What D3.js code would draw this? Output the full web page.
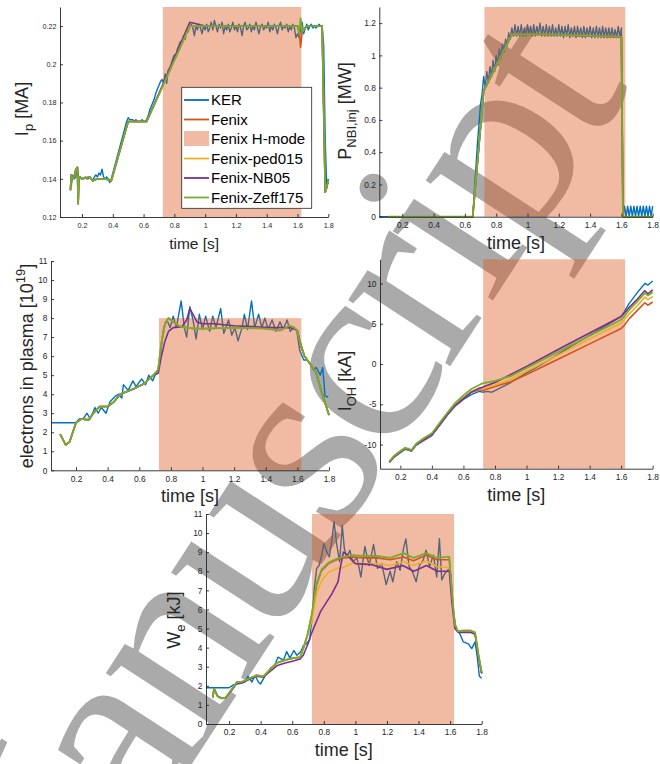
<!DOCTYPE html>
<html>
<head>
<meta charset="utf-8">
<script src="https://cdn.jsdelivr.net/npm/d3@7/dist/d3.min.js"></script>
<style>
  body { margin: 0; background: #fff; }
  text { font-family: "Liberation Sans", Arial, Helvetica, sans-serif; fill: #262626; }
</style>
</head>
<body>
<svg id="chart" width="660" height="764"></svg>
<script>
// ---------- data ----------
var legendLabels = ['KER', 'Fenix', 'Fenix H-mode', 'Fenix-ped015', 'Fenix-NB05', 'Fenix-Zeff175']
var hMode = [0.725, 1.625]

var timeTicks = [0.2, 0.4, 0.6, 0.8, 1, 1.2, 1.4, 1.6, 1.8]
var timeTickLabels = ['0.2', '0.4', '0.6', '0.8', '1', '1.2', '1.4', '1.6', '1.8']
var ipTicks = [0.12, 0.14, 0.16, 0.18, 0.2, 0.22]
var ipTickLabels = ['0.12', '0.14', '0.16', '0.18', '0.2', '0.22']
var nbiTicks = [0, 0.2, 0.4, 0.6, 0.8, 1, 1.2]
var nbiTickLabels = ['0', '0.2', '0.4', '0.6', '0.8', '1', '1.2']
var neTicks = [0, 1, 2, 3, 4, 5, 6, 7, 8, 9, 10, 11]
var ohTicks = [-10, -5, 0, 5, 10]
var weTicks = [0, 1, 2, 3, 4, 5, 6, 7, 8, 9, 10, 11]

// plasma current, KER sampled every 10 ms from 0.13 s
var ipKer = [
  .136, .142, .140, .141, .146, .139, .141, .140, .140, .141,
  .140, .140, .141, .140, .139, .141, .142, .141, .143, .142,
  .145, .141, .140, .141, .140, .138, .140, .143, .146, .149,
  .152, .155, .158, .161, .164, .167, .170, .172, .171, .171,
  .171, .170, .171, .170, .170, .170, .171, .170, .170, .171,
  .173, .176, .178, .180, .182, .185, .187, .189, .191, .192,
  .190, .195, .190, .197, .198, .200, .203, .205, .204, .208,
  .210, .212, .211, .215, .213, .218, .217, .220,
  .221, .219, .215, .220, .218, .221, .219, .216, .220, .218,
  .221, .217, .219, .222, .218, .223, .220, .217, .221, .219,
  .222, .216, .220, .218, .221, .217, .219, .222, .218, .220,
  .217, .221, .219, .215, .220, .222, .218, .219, .221, .217,
  .220, .218, .222, .219, .216, .220, .221, .218, .220, .219,
  .222, .217, .220, .218, .221, .219, .216, .220, .222, .218,
  .220, .219, .221, .217, .220, .218, .221, .219, .214, .216,
  .214, .218, .222, .216, .219, .221, .218, .220, .221, .219,
  .220, .219, .220, .221, .220, .220, .210, .160, .135, .140
]
var ipFenixT = [0.125, 0.13, 0.14, 0.15, 0.16, 0.17, 0.175, 0.18, 0.2, 0.25, 0.27, 0.3, 0.35, 0.39, 0.5, 0.62, 0.9, 1.0, 1.2, 1.4, 1.6, 1.61, 1.62, 1.63, 1.64, 1.66, 1.7, 1.76, 1.78, 1.8]
var ipFenix = [0.134, 0.142, 0.140, 0.141, 0.145, 0.146, 0.127, 0.141, 0.140, 0.141, 0.139, 0.140, 0.140, 0.139, 0.170, 0.170, 0.220, 0.220, 0.220, 0.220, 0.220, 0.218, 0.209, 0.217, 0.218, 0.220, 0.220, 0.220, 0.133, 0.139]
var ipPed = [0.134, 0.142, 0.140, 0.141, 0.145, 0.146, 0.127, 0.141, 0.140, 0.141, 0.139, 0.140, 0.140, 0.139, 0.170, 0.170, 0.220, 0.220, 0.220, 0.220, 0.220, 0.217, 0.223, 0.217, 0.218, 0.220, 0.220, 0.220, 0.133, 0.139]
var ipNB05 = [0.134, 0.142, 0.140, 0.141, 0.145, 0.146, 0.127, 0.141, 0.140, 0.141, 0.139, 0.140, 0.140, 0.139, 0.170, 0.170, 0.222, 0.220, 0.220, 0.220, 0.220, 0.218, 0.220, 0.217, 0.218, 0.220, 0.220, 0.220, 0.133, 0.139]
var ipZeff = [0.134, 0.142, 0.140, 0.141, 0.145, 0.146, 0.127, 0.141, 0.140, 0.141, 0.139, 0.140, 0.140, 0.139, 0.170, 0.170, 0.220, 0.220, 0.220, 0.220, 0.220, 0.216, 0.224, 0.217, 0.218, 0.220, 0.220, 0.220, 0.133, 0.139]

// NBI power
var nbiKerRampT = [0.053, 0.65, 0.66, 0.68, 0.70]
var nbiKerRamp = [0, 0, 0.15, 0.45, 0.70]
// pulses every 10 ms from 0.71 s to 1.60 s
var nbiKerPulse = [
  0.76, 0.87, 0.80, 0.90, 0.83, 0.93, 0.87, 0.97, 0.90, 1.00,
  0.94, 1.04, 0.98, 1.07, 1.02, 1.10, 1.06, 1.14, 1.10, 1.17,
  1.12, 1.19, 1.12, 1.18, 1.12, 1.19, 1.12, 1.17, 1.12, 1.19,
  1.13, 1.18, 1.12, 1.19, 1.12, 1.18, 1.13, 1.20, 1.12, 1.18,
  1.12, 1.19, 1.12, 1.18, 1.12, 1.19, 1.12, 1.17, 1.12, 1.19,
  1.12, 1.18, 1.11, 1.18, 1.12, 1.19, 1.11, 1.17, 1.12, 1.18,
  1.11, 1.18, 1.12, 1.17, 1.11, 1.18, 1.11, 1.17, 1.12, 1.18,
  1.11, 1.17, 1.11, 1.18, 1.11, 1.17, 1.11, 1.18, 1.11, 1.17,
  1.11, 1.17, 1.11, 1.17, 1.11, 1.16, 1.11, 1.18, 1.11, 1.17
]
// pulses every 10 ms from 1.61 s
var nbiKerTail = [0, 0.065, 0, 0.065, 0, 0.065, 0, 0.065, 0, 0.065, 0, 0.065, 0, 0.065, 0, 0.065, 0, 0.065, 0, 0.065]
var nbiFenixT = [0.11, 0.65, 0.72, 0.9, 1.1, 1.6, 1.61, 1.8]
var nbiFenix = [0, 0, 0.78, 1.13, 1.13, 1.115, 0, 0]

// electrons in plasma
var neKerT = [0.042, 0.2, 0.22, 0.245, 0.27, 0.29, 0.32, 0.34, 0.36, 0.39, 0.415, 0.45, 0.47, 0.49, 0.5, 0.53, 0.56, 0.58, 0.615, 0.64, 0.66, 0.685, 0.7, 0.72, 0.74, 0.755, 0.775, 0.795, 0.815, 0.835, 0.865, 0.885, 0.9, 0.92, 0.94, 0.96, 0.98, 1.0, 1.02, 1.045, 1.065, 1.085, 1.115, 1.135, 1.165, 1.185, 1.205, 1.225, 1.25, 1.265, 1.285, 1.31, 1.33, 1.355, 1.375, 1.395, 1.415, 1.44, 1.465, 1.49, 1.51, 1.535, 1.555, 1.575, 1.595, 1.615, 1.64, 1.66, 1.68, 1.7, 1.72, 1.745, 1.76, 1.775, 1.795]
var neKer = [2.5, 2.5, 2.7, 2.7, 3.0, 2.7, 3.3, 3.0, 3.3, 3.0, 3.6, 3.9, 4.0, 3.8, 4.5, 4.2, 4.7, 4.4, 4.8, 4.5, 5.0, 4.7, 5.0, 5.3, 6.5, 7.5, 7.9, 7.5, 8.1, 7.5, 8.9, 7.5, 7.0, 8.6, 7.9, 6.9, 8.2, 7.4, 8.1, 7.3, 8.1, 7.5, 8.5, 7.2, 7.9, 7.1, 7.5, 6.8, 7.5, 8.2, 7.4, 8.9, 7.5, 8.2, 7.5, 8.0, 7.4, 7.9, 7.3, 7.8, 7.4, 7.9, 7.3, 7.5, 7.4, 6.3, 5.8, 5.8, 5.6, 5.3, 5.4, 5.0, 5.4, 3.9, 3.85]
var neFenixT = [0.1, 0.135, 0.16, 0.2, 0.235, 0.28, 0.31, 0.35, 0.4, 0.44, 0.48, 0.57, 0.63, 0.69, 0.72, 0.74, 0.763, 0.785, 0.815, 0.86, 0.94, 1.03, 1.2, 1.4, 1.49, 1.55, 1.58, 1.6, 1.625, 1.645, 1.68, 1.72, 1.75, 1.8]
var neFenix = [1.9, 1.33, 1.5, 2.5, 2.7, 2.65, 3.0, 3.35, 3.35, 3.6, 4.0, 4.3, 4.55, 5.0, 5.3, 6.7, 7.7, 8.0, 7.8, 7.55, 7.45, 7.45, 7.5, 7.45, 7.35, 7.6, 7.5, 7.3, 6.5, 6.0, 5.6, 5.1, 4.2, 2.9]
var neNB05T = [0.1, 0.135, 0.16, 0.2, 0.235, 0.28, 0.31, 0.35, 0.4, 0.44, 0.48, 0.57, 0.63, 0.69, 0.72, 0.74, 0.763, 0.785, 0.815, 0.87, 0.9, 0.92, 0.94, 0.965, 1.0, 1.07, 1.2, 1.32, 1.445, 1.555, 1.6, 1.625, 1.645, 1.68, 1.72, 1.75, 1.8]
var neNB05 = [1.9, 1.33, 1.5, 2.5, 2.7, 2.65, 3.0, 3.35, 3.35, 3.6, 4.0, 4.3, 4.55, 5.0, 5.1, 6.0, 6.8, 7.3, 7.5, 7.55, 7.9, 8.5, 8.2, 7.8, 7.7, 7.7, 7.6, 7.55, 7.5, 7.5, 7.35, 6.5, 6.0, 5.6, 5.1, 4.2, 2.9]

// ohmic coil current
var ohKerT = [0.13, 0.16, 0.2, 0.23, 0.25, 0.27, 0.3, 0.35, 0.4, 0.45, 0.5, 0.55, 0.6, 0.65, 0.7, 0.72, 0.75, 0.78, 0.8, 0.85, 0.9, 0.95, 1.0, 1.1, 1.2, 1.3, 1.4, 1.5, 1.6, 1.62, 1.65, 1.7, 1.75, 1.77, 1.8]
var ohKer = [-12.2, -11.6, -11.0, -10.6, -10.7, -10.8, -10.1, -9.5, -8.9, -7.6, -6.3, -5.2, -4.4, -3.8, -3.4, -3.5, -3.4, -3.5, -3.3, -2.8, -2.3, -1.7, -1.1, 0.0, 1.2, 2.4, 3.55, 4.7, 5.9, 6.5, 7.5, 8.8, 10.0, 9.8, 10.3]
var ohT = [0.13, 0.16, 0.2, 0.23, 0.25, 0.27, 0.3, 0.35, 0.4, 0.45, 0.5, 0.55, 0.6, 0.65, 0.7, 0.72, 0.8, 0.9, 1.0, 1.2, 1.4, 1.6, 1.62, 1.65, 1.7, 1.75, 1.77, 1.8]
var ohFenix = [-12.2, -11.5, -10.9, -10.5, -10.6, -10.8, -10.0, -9.4, -8.8, -7.5, -6.2, -5.1, -4.2, -3.5, -3.2, -3.3, -2.8, -2.2, -1.3, 0.6, 2.5, 4.4, 4.8, 5.6, 6.6, 7.6, 7.3, 7.7]
var ohPed = [-12.2, -11.5, -10.9, -10.5, -10.6, -10.8, -10.0, -9.4, -8.8, -7.5, -6.2, -5.1, -4.2, -3.4, -3.0, -3.1, -2.6, -1.9, -0.9, 1.1, 3.1, 5.1, 5.5, 6.2, 7.2, 8.3, 8.0, 8.4]
var ohNB05 = [-12.2, -11.5, -10.9, -10.5, -10.6, -10.8, -10.0, -9.4, -8.8, -7.5, -6.2, -5.1, -4.3, -3.5, -3.0, -2.9, -2.3, -1.3, -0.3, 1.8, 3.85, 5.9, 6.3, 7.0, 8.0, 9.1, 8.7, 9.2]
var ohZeff = [-12.1, -11.4, -10.8, -10.4, -10.5, -10.7, -9.9, -9.2, -8.6, -7.3, -6.0, -4.8, -3.9, -3.1, -2.6, -2.4, -2.1, -1.5, -0.5, 1.5, 3.5, 5.5, 5.9, 6.7, 7.7, 8.8, 8.5, 8.9]

// electron stored energy
var weKerT = [0.054, 0.2, 0.227, 0.26, 0.3, 0.32, 0.345, 0.365, 0.385, 0.4, 0.43, 0.46, 0.49, 0.51, 0.545, 0.565, 0.585, 0.61, 0.63, 0.655, 0.67, 0.69, 0.71, 0.725, 0.74, 0.755, 0.77, 0.787, 0.8, 0.82, 0.835, 0.85, 0.865, 0.88, 0.9, 0.917, 0.93, 0.945, 0.965, 0.983, 1.01, 1.035, 1.06, 1.087, 1.115, 1.14, 1.167, 1.195, 1.22, 1.237, 1.262, 1.283, 1.305, 1.32, 1.34, 1.36, 1.385, 1.405, 1.43, 1.448, 1.47, 1.494, 1.515, 1.532, 1.547, 1.568, 1.59, 1.605, 1.62, 1.638, 1.66, 1.684, 1.716, 1.737, 1.758, 1.773, 1.785, 1.8]
var weKer = [1.9, 1.9, 2.05, 2.1, 2.2, 2.5, 2.2, 2.55, 2.2, 2.1, 2.55, 2.9, 3.1, 3.5, 3.35, 3.8, 3.45, 3.85, 3.6, 3.8, 4.1, 4.2, 4.4, 5.5, 7.1, 8.15, 8.3, 8.85, 9.45, 9.0, 8.75, 9.55, 10.6, 9.5, 8.5, 10.4, 9.2, 8.7, 9.1, 8.5, 8.7, 7.7, 9.3, 8.3, 9.4, 8.15, 8.4, 7.3, 8.0, 7.45, 8.5, 8.05, 9.2, 9.7, 8.25, 8.0, 7.45, 8.3, 8.6, 9.1, 8.25, 8.85, 7.7, 9.7, 7.55, 7.9, 8.1, 7.8, 5.9, 5.0, 4.75, 4.3, 4.2, 3.95, 4.3, 3.45, 2.5, 2.4]
var weT = [0.097, 0.105, 0.128, 0.153, 0.175, 0.207, 0.25, 0.28, 0.333, 0.375, 0.417, 0.46, 0.502, 0.555, 0.607, 0.65, 0.67, 0.696, 0.724, 0.755, 0.787, 0.83, 0.882, 0.924, 0.987, 1.05, 1.135, 1.22, 1.305, 1.368, 1.45, 1.515, 1.578, 1.595, 1.61, 1.63, 1.65, 1.684, 1.727, 1.758, 1.78, 1.8]
var weFenix = [1.4, 1.85, 1.45, 1.35, 1.35, 1.7, 2.2, 2.2, 2.4, 2.55, 2.5, 2.85, 3.2, 3.35, 3.45, 3.5, 3.95, 4.65, 5.7, 7.3, 8.05, 8.4, 8.6, 8.7, 8.75, 8.7, 8.7, 8.6, 8.75, 8.55, 8.85, 8.6, 8.6, 8.6, 6.9, 5.2, 4.85, 4.85, 4.85, 4.75, 3.6, 2.65]
var wePed = [1.4, 1.85, 1.45, 1.35, 1.35, 1.7, 2.2, 2.2, 2.4, 2.55, 2.5, 2.85, 3.2, 3.35, 3.45, 3.5, 3.95, 4.6, 5.4, 6.9, 7.5, 7.95, 8.15, 8.2, 8.45, 8.4, 8.4, 8.3, 8.5, 8.3, 8.55, 8.25, 8.2, 8.2, 6.7, 5.2, 4.85, 4.85, 4.85, 4.75, 3.6, 2.65]
var weZeff = [1.4, 1.85, 1.45, 1.35, 1.35, 1.7, 2.2, 2.2, 2.4, 2.55, 2.5, 2.85, 3.2, 3.35, 3.45, 3.5, 3.95, 4.65, 5.75, 7.4, 8.1, 8.45, 8.65, 8.75, 8.85, 8.8, 8.8, 8.7, 8.95, 8.7, 8.95, 8.7, 8.75, 8.75, 7.0, 5.2, 4.85, 4.9, 4.9, 4.8, 3.6, 2.7]
var weNB05T = [0.097, 0.105, 0.128, 0.153, 0.175, 0.207, 0.25, 0.28, 0.333, 0.375, 0.417, 0.46, 0.502, 0.555, 0.607, 0.65, 0.67, 0.7, 0.72, 0.78, 0.85, 0.89, 0.907, 0.924, 0.945, 0.965, 1.0, 1.1, 1.2, 1.3, 1.37, 1.45, 1.52, 1.595, 1.61, 1.63, 1.65, 1.684, 1.727, 1.758, 1.78, 1.8]
var weNB05 = [1.4, 1.85, 1.45, 1.35, 1.35, 1.65, 2.15, 2.15, 2.35, 2.5, 2.45, 2.75, 3.05, 3.2, 3.3, 3.4, 3.6, 4.2, 4.7, 5.9, 6.8, 7.45, 8.3, 9.0, 8.9, 8.7, 8.4, 8.35, 8.1, 8.3, 8.0, 8.3, 8.0, 8.0, 6.5, 5.0, 4.8, 4.8, 4.8, 4.7, 3.5, 2.65]

// ---------- drawing ----------
var colors = {ker: '#0072BD', fenix: '#D95319', ped: '#EDB120', nb: '#7E2F8E', zeff: '#77AC30'}
var ink = '#262626'

function pairs(t, v){ return t.map(function(d, i){ return [d, v[i]] }) }
function grid(start, step, v){ return v.map(function(d, i){ return [start + i*step, d] }) }

var svg = d3.select('#chart')

// watermark sits under the (transparent) figure
svg.append('text')
  .attr('transform', 'translate(23,1024) rotate(-57)')
  .style('font-family', '"Liberation Serif", "Times New Roman", serif')
  .style('font-size', '265px')
  .style('letter-spacing', '-10px')
  .style('fill', '#aaaaaa')
  .text('Manuscript')

var panels = [
  {box: {l: 60, r: 328.3, t: 7, b: 217}, x: [0.057, 1.8], y: [0.12, 0.23], shadeTop: 0.23,
   yTicks: ipTicks, yTickLabels: ipTickLabels, tickFont: 7.2, xlabFont: 15.5, xlabY: 249,
   ylab: {x: 28, y: 109, parts: [['I'], ['p', 'sub'], [' [MA]']]},
   series: {ker: grid(0.13, 0.01, ipKer), fenix: pairs(ipFenixT, ipFenix), ped: pairs(ipFenixT, ipPed),
            nb: pairs(ipFenixT, ipNB05), zeff: pairs(ipFenixT, ipZeff)}},
  {box: {l: 379.3, r: 652.7, t: 7, b: 216.7}, x: [0.053, 1.8], y: [0, 1.3], shadeTop: 1.3,
   yTicks: nbiTicks, yTickLabels: nbiTickLabels, tickFont: 8.4, xlabFont: 18, xlabY: 249,
   ylab: {x: 350.5, y: 111, parts: [['P'], ['NBI,inj', 'sub'], [' [MW]']]},
   series: {ker: pairs(nbiKerRampT, nbiKerRamp).concat(grid(0.71, 0.01, nbiKerPulse), grid(1.61, 0.01, nbiKerTail)),
            fenix: pairs(nbiFenixT, nbiFenix), ped: pairs(nbiFenixT, nbiFenix),
            nb: pairs(nbiFenixT, nbiFenix), zeff: pairs(nbiFenixT, nbiFenix)}},
  {box: {l: 51, r: 329, t: 261, b: 470.3}, x: [0.042, 1.8], y: [0, 11], shadeTop: 8,
   yTicks: neTicks, yTickLabels: neTicks.map(String), tickFont: 8.4, xlabFont: 18, xlabY: 502,
   ylab: {x: 32.5, y: 366, parts: [['electrons in plasma [10'], ['19', 'sup'], [']']]},
   series: {ker: pairs(neKerT, neKer), fenix: pairs(neFenixT, neFenix), ped: pairs(neFenixT, neFenix),
            nb: pairs(neNB05T, neNB05), zeff: pairs(neFenixT, neFenix)}},
  {box: {l: 380, r: 652.7, t: 259.3, b: 468.7}, x: [0.071, 1.8], y: [-13, 13], shadeTop: 13,
   yTicks: ohTicks, yTickLabels: ohTicks.map(String), tickFont: 8.4, xlabFont: 18, xlabY: 500.5,
   ylab: {x: 350.5, y: 381, parts: [['I'], ['OH', 'sub'], [' [kA]']]},
   series: {ker: pairs(ohKerT, ohKer), fenix: pairs(ohT, ohFenix), ped: pairs(ohT, ohPed),
            nb: pairs(ohT, ohNB05), zeff: pairs(ohT, ohZeff)}},
  {box: {l: 206, r: 481.7, t: 514, b: 724}, x: [0.054, 1.8], y: [0, 11], shadeTop: 11,
   yTicks: weTicks, yTickLabels: weTicks.map(String), tickFont: 8.4, xlabFont: 18, xlabY: 756,
   ylab: {x: 180, y: 620, parts: [['W'], ['e', 'sub'], [' [kJ]']]},
   series: {ker: pairs(weKerT, weKer), fenix: pairs(weT, weFenix), ped: pairs(weT, wePed),
            nb: pairs(weNB05T, weNB05), zeff: pairs(weT, weZeff)}}
]

panels.forEach(drawPanel)
drawLegend()

function drawPanel(p){
  var x = d3.scaleLinear().domain(p.x).range([p.box.l, p.box.r])
  var y = d3.scaleLinear().domain(p.y).range([p.box.b, p.box.t])
  var line = d3.line().x(function(d){ return x(d[0]) }).y(function(d){ return y(d[1]) })
  var g = svg.append('g')

  function trace(key, w){
    g.append('path').attr('d', line(p.series[key]))
      .attr('fill', 'none').attr('stroke', colors[key]).attr('stroke-width', w)
      .attr('stroke-linejoin', 'round')
  }

  // KER and Fenix sit below the H-mode patch, the variants above it
  trace('ker', 1.4)
  trace('fenix', 1.6)
  g.append('rect')
    .attr('x', x(hMode[0])).attr('width', x(hMode[1]) - x(hMode[0]))
    .attr('y', y(p.shadeTop)).attr('height', y(p.y[0]) - y(p.shadeTop))
    .attr('fill', colors.fenix).attr('fill-opacity', 0.4)
  trace('ped', 1.6)
  trace('nb', 1.6)
  trace('zeff', 1.8)

  var xAxis = d3.axisBottom(x).tickValues(timeTicks)
    .tickFormat(function(d, i){ return timeTickLabels[i] })
    .tickSize(-3).tickSizeOuter(0).tickPadding(5.5)
  var yAxis = d3.axisLeft(y).tickValues(p.yTicks)
    .tickFormat(function(d, i){ return p.yTickLabels[i] })
    .tickSize(-3).tickSizeOuter(0).tickPadding(3.5)

  var xg = g.append('g').attr('transform', 'translate(0,' + p.box.b + ')').call(xAxis)
  var yg = g.append('g').attr('transform', 'translate(' + p.box.l + ',0)').call(yAxis)
  ;[xg, yg].forEach(function(a){
    a.attr('font-size', null).attr('font-family', null)
    a.selectAll('path, line').attr('stroke', ink).attr('stroke-width', 0.9)
    a.selectAll('text').style('font-size', p.tickFont + 'px').style('fill', ink)
  })

  g.append('text')
    .attr('x', (p.box.l + p.box.r) / 2).attr('y', p.xlabY)
    .attr('text-anchor', 'middle').style('font-size', p.xlabFont + 'px')
    .text('time [s]')

  var yl = g.append('text')
    .attr('transform', 'translate(' + p.ylab.x + ',' + p.ylab.y + ') rotate(-90)')
    .attr('text-anchor', 'middle').style('font-size', '18px')
  var shift = 0
  p.ylab.parts.forEach(function(part){
    var dy = 0
    if (part[1] == 'sub') dy = 5
    if (part[1] == 'sup') dy = -8
    var ts = yl.append('tspan').attr('dy', dy - shift).text(part[0])
    if (part[1]) ts.style('font-size', '13px')
    shift = dy
  })
}

function drawLegend(){
  var lg = svg.append('g')
  lg.append('rect')
    .attr('x', 181.7).attr('y', 87.3).attr('width', 130).attr('height', 121)
    .attr('fill', '#fff').attr('stroke', ink).attr('stroke-width', 0.8)
  var keys = ['ker', 'fenix', 'patch', 'ped', 'nb', 'zeff']
  legendLabels.forEach(function(label, i){
    var cy = 100 + i * 19.5
    if (keys[i] == 'patch'){
      lg.append('rect').attr('x', 184).attr('y', cy - 8).attr('width', 25).attr('height', 15)
        .attr('fill', colors.fenix).attr('fill-opacity', 0.4)
    } else {
      lg.append('line').attr('x1', 184).attr('x2', 209).attr('y1', cy).attr('y2', cy)
        .attr('stroke', colors[keys[i]]).attr('stroke-width', 1.8)
    }
    lg.append('text').attr('x', 211).attr('y', cy + 5.2)
      .style('font-size', '15px').style('fill', '#000').text(label)
  })
}
</script>
</body>
</html>
